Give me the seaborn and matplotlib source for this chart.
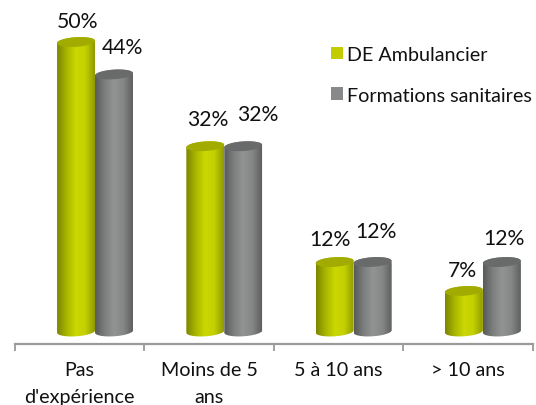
import numpy as np
import pandas as pd
import matplotlib
matplotlib.use("Agg")
import matplotlib.pyplot as plt
import seaborn as sns
from matplotlib.path import Path
from matplotlib.patches import PathPatch
from matplotlib.colors import LinearSegmentedColormap
from matplotlib.transforms import IdentityTransform

categories = ["Pas\nd'expérience", "Moins de 5\nans", "5 à 10 ans", "> 10 ans"]
series_names = ["DE Ambulancier", "Formations sanitaires"]
de_ambulancier = [50, 32, 12, 7]
formations_sanitaires = [44.4, 32, 12, 12]

# label nudges in pixels (x, y) from each bar's top centre
label_nudges = [[1, 21], [2, 27], [-5, 23], [-1, 21], [8, 27], [15, 32], [3, 31], [2, 24]]
green_stops = ["#7c8600", "#a9b500", "#cbd800", "#c4d000", "#8f9a00"]
gray_stops = ["#585a5a", "#7c7e7e", "#929494", "#858787", "#5e6060"]
green_top, gray_top = "#a2ac00", "#696b6b"
flat = ["#c2cc00", "#88898a"]

sns.set_style("white")
plt.rcParams["font.family"] = ["Lato", "DejaVu Sans"]
W, H = 536, 406
fig = plt.figure(figsize=(W / 100, H / 100), dpi=100)
ax = fig.add_axes([15 / W, (H - 345) / H, (533 - 15) / W, 345 / H])

df = pd.DataFrame({
    "cat": categories * 2,
    "serie": [series_names[0]] * 4 + [series_names[1]] * 4,
    "val": de_ambulancier + formations_sanitaires,
})
sns.barplot(data=df, x="cat", y="val", hue="serie", palette=flat, width=0.587,
            gap=0, saturation=1, legend=False, ax=ax, order=categories,
            hue_order=series_names)

ax.set_xlim(-0.619, 3.388)
px_per_pct = 5.79
ax.set_ylim(-12.5 / px_per_pct, (345 - 12.5) / px_per_pct)
fig.canvas.draw()

bars = list(ax.patches)[:8]
TILT = 1.2   # px rise across half of the ellipse
RY = 4.8


def cyl_paths(x0, x1, ytop, ybot):
    """Cylinder outline and cap in display pixels."""
    cx, rx = (x0 + x1) / 2, (x1 - x0) / 2
    t = np.linspace(0, 2 * np.pi, 60)
    ex = cx + rx * np.cos(t)
    cap = np.column_stack([ex, ytop + RY * np.sin(t) + TILT * np.cos(t)])
    tb = np.linspace(np.pi, 2 * np.pi, 30)
    lower = np.column_stack([cx + rx * np.cos(tb), ybot + RY * np.sin(tb) + TILT * np.cos(tb)])
    tt = np.linspace(0, np.pi, 30)
    upper = np.column_stack([cx + rx * np.cos(tt), ytop + RY * np.sin(tt) + TILT * np.cos(tt)])
    body = np.vstack([lower, upper, lower[:1]])
    return Path(body, closed=True), Path(cap, closed=True)


def make_cmap(stops):
    return LinearSegmentedColormap.from_list("c", stops)


order = sorted(range(8), key=lambda i: (i % 4, i >= 4))
grad = np.linspace(0, 1, 128).reshape(1, -1)
for rank, i in enumerate(order):
    b = bars[i]
    x0, x1 = b.get_x(), b.get_x() + b.get_width()
    val = b.get_height()
    (px0, pyb), (px1, pyt) = ax.transData.transform([(x0, 0), (x1, val)])
    body, cap = cyl_paths(px0, px1, pyt, pyb)
    is_green = i < 4
    z = 3 + rank * 0.1
    clip_body = PathPatch(body, transform=IdentityTransform(), fc="none", ec="none")
    ax.add_artist(clip_body)
    b.set_clip_path(clip_body)
    b.set_zorder(z)
    img = ax.imshow(grad, extent=[x0, x1, -3, val + 3], aspect="auto", zorder=z + 0.01,
                    cmap=make_cmap(green_stops if is_green else gray_stops),
                    interpolation="bilinear")
    img.set_clip_path(clip_body)
    ax.add_patch(PathPatch(cap, transform=IdentityTransform(), zorder=z + 0.02,
                           fc=green_top if is_green else gray_top, ec="none", clip_on=False))
    ax.annotate(f"{val:.0f}%", (x0 + (x1 - x0) / 2, val), xytext=label_nudges[i],
                textcoords="offset pixels", ha="center", va="center",
                fontsize=15.2, color="#111111", zorder=10)

ax.set_xlim(-0.619, 3.388)
ax.set_ylim(-12.5 / px_per_pct, (345 - 12.5) / px_per_pct)

# category labels sit centred between the boundary ticks; bars are set right of centre
tick_left = -0.619
step = 1.0017
ax.set_xticks([tick_left + step * k for k in range(5)])
ax.set_xticklabels([])
ax.set_xticks([tick_left + step * (k + 0.5) for k in range(4)], minor=True)
ax.set_xticklabels(categories, minor=True, fontsize=14.2, color="#111111", linespacing=1.72)
ax.tick_params(axis="x", which="major", bottom=True, length=5, width=1.3, color="#9a9a9a", direction="out")
ax.tick_params(axis="x", which="minor", bottom=True, length=0, pad=12)
ax.set_yticks([])
ax.set_xlabel("")
ax.set_ylabel("")
sns.despine(ax=ax, left=True, top=True, right=True)
ax.spines["bottom"].set_color("#9a9a9a")
ax.spines["bottom"].set_linewidth(1.6)

handles = [plt.Rectangle((0, 0), 1, 1, fc=c, ec="none") for c in flat]
ax.legend(handles, series_names, loc="upper left",
          bbox_to_anchor=((331 - 15) / 518, (345 - 47) / 345),
          frameon=False, fontsize=14.2, handlelength=0.62, handleheight=0.62,
          handletextpad=0.2, labelspacing=1.2, labelcolor="#111111",
          borderaxespad=0, borderpad=0)

fig.savefig("out.png", dpi=100, facecolor="white")
